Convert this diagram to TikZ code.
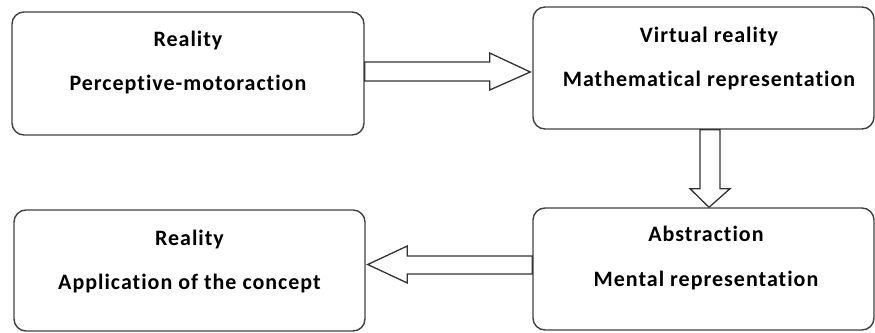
\documentclass[tikz,border=0pt]{standalone}
\usepackage{fontspec}
\setmainfont{Carlito}[Ligatures=NoCommon, LetterSpace=4.5]
\usetikzlibrary{shapes,backgrounds}
\usetikzlibrary{arrows}

\tikzset{
  box/.style={draw=black!75, line width=1.4pt, rounded corners=12pt,
    inner sep=0pt},
  boxtext/.style={anchor=base, inner sep=0pt,
    font=\fontsize{22}{26}\selectfont\bfseries},
  hollow/.style={draw=black!80, line width=1.3pt, fill=white}
}

\begin{document}
\begin{tikzpicture}[x=1pt, y=1pt]
      \useasboundingbox (0,0) rectangle (875,-332);
      % the four boxes
      \node [box, minimum width=352pt, minimum height=123pt] (real1) at (188,-73.5) {};
      \node [box, minimum width=341pt, minimum height=122pt] (virt) at (703.5,-68) {};
      \node [box, minimum width=341pt, minimum height=122pt] (abst) at (703.5,-269) {};
      \node [box, minimum width=351pt, minimum height=121pt] (real2) at (189.5,-270.5) {};

      \node [boxtext] (real1a) at ([yshift=-35]real1.north) {Reality};
      \node [boxtext] (real1b) at ([yshift=-79]real1.north) {Perceptive-motoraction};
      \node [boxtext] (virta) at ([xshift=5.5,yshift=-36]virt.north) {Virtual reality};
      \node [boxtext] (virtb) at ([xshift=5.5,yshift=-80]virt.north) {Mathematical representation};
      \node [boxtext] (absta) at ([xshift=2.5,yshift=-34]abst.north) {Abstraction};
      \node [boxtext] (abstb) at ([xshift=2.5,yshift=-79]abst.north) {Mental representation};
      \node [boxtext] (real2a) at ([yshift=-36]real2.north) {Reality};
      \node [boxtext] (real2b) at ([yshift=-80]real2.north) {Application of the concept};

      % block arrows
      \draw [hollow] ([yshift=11.5]real1.east) -- ++(125,0) -- ++(0,9)
        -- ([xshift=-2,yshift=-4]virt.west)
        -- ([xshift=125,yshift=-16.5]real1.east) -- ++(0,9)
        -- ([yshift=-7.5]real1.east) -- cycle;
      \draw [hollow] ([xshift=-3.5]virt.south) -- ++(0,-59) -- ++(-10,0)
        -- ([xshift=5.5]abst.north)
        -- ([xshift=26.5,yshift=-59]virt.south) -- ++(-10,0)
        -- ([xshift=16.5]virt.south) -- cycle;
      \draw [hollow] ([yshift=13]abst.west) -- ++(-125,0) -- ++(0,10)
        -- ([xshift=2,yshift=6]real2.east)
        -- ([xshift=-125,yshift=-14]abst.west) -- ++(0,9)
        -- ([yshift=-5]abst.west) -- cycle;
\end{tikzpicture}
\end{document}
